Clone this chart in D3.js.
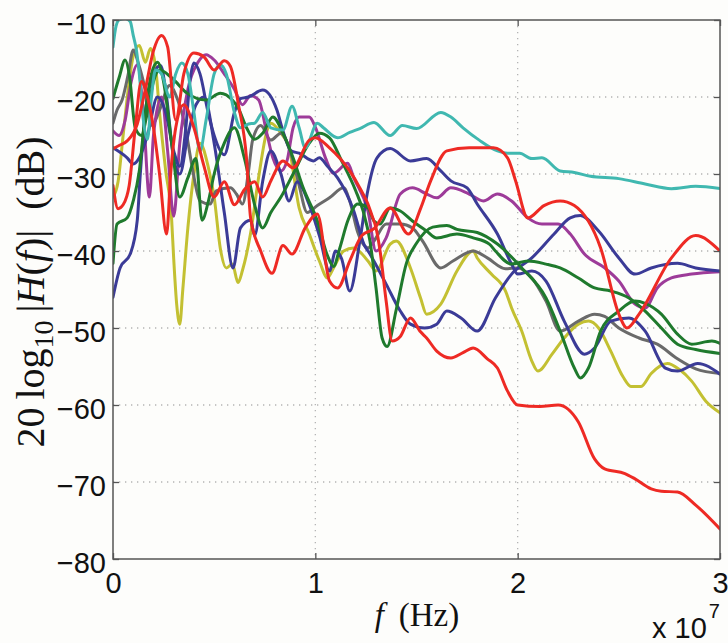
<!DOCTYPE html>
<html>
<head>
<meta charset="utf-8">
<script src="https://cdn.jsdelivr.net/npm/d3@7"></script>
<style>
  html, body { margin: 0; padding: 0; background: #fdfdfb; }
  svg { display: block; }
</style>
</head>
<body>
<svg id="chart" width="728" height="643"></svg>
<script>
// Frequency is given in units of 1e7 Hz, magnitude in dB.
const xTicks = [0, 1, 2, 3];
const yTicks = [-80, -70, -60, -50, -40, -30, -20, -10];

const cyanResp = [[0,-13.5],[0.015,-10.8],[0.03,-10.0],[0.06,-9.8],[0.085,-10.2],[0.1,-12],[0.115,-13.8],[0.13,-17],[0.15,-23],[0.17,-25.5],[0.19,-20],[0.21,-16.5],[0.24,-17],[0.28,-20],[0.31,-17],[0.34,-15.6],[0.37,-17],[0.4,-22],[0.43,-27],[0.46,-23],[0.5,-17],[0.53,-15.8],[0.56,-17],[0.6,-22],[0.63,-24],[0.67,-23.5],[0.7,-23.4],[0.74,-22],[0.78,-24],[0.84,-24.3],[0.885,-21.2],[0.92,-24],[0.95,-26.6],[1.01,-23.4],[1.04,-24],[1.11,-25.3],[1.17,-24.6],[1.22,-24.1],[1.29,-23.3],[1.37,-25],[1.43,-23.7],[1.5,-24.1],[1.62,-22],[1.67,-22.6],[1.73,-24],[1.81,-25.6],[1.9,-27],[1.95,-27.3],[2.01,-27.3],[2.07,-28],[2.12,-27.9],[2.21,-29.6],[2.28,-29.8],[2.36,-30.3],[2.5,-30.6],[2.63,-31.3],[2.76,-31.9],[2.88,-31.6],[3.0,-31.9]];

const redUpperResp = [[0,-26.7],[0.03,-26.3],[0.07,-25.7],[0.12,-23.5],[0.16,-19],[0.2,-14],[0.24,-12],[0.27,-13.5],[0.31,-23],[0.35,-17],[0.4,-14.3],[0.45,-14.8],[0.5,-16.5],[0.55,-15.3],[0.58,-16],[0.62,-21],[0.66,-28],[0.68,-35.7],[0.73,-40],[0.786,-42.9],[0.84,-39.3],[0.885,-40.4],[0.95,-37],[1.01,-35.2],[1.07,-43.9],[1.11,-44.8],[1.17,-41.3],[1.23,-38],[1.29,-37.1],[1.37,-34.4],[1.46,-37.8],[1.52,-34.5],[1.57,-30.9],[1.65,-27],[1.76,-26.6],[1.88,-26.6],[1.95,-27.9],[1.99,-30.9],[2.05,-35.7],[2.13,-34.1],[2.21,-33.5],[2.28,-34.1],[2.41,-39.6],[2.5,-48.2],[2.54,-50],[2.6,-48.2],[2.76,-40.9],[2.88,-38],[3.0,-40]];

const redLowerResp = [[0,-31.5],[0.025,-34.5],[0.05,-34],[0.08,-31.5],[0.11,-24],[0.14,-18],[0.17,-20],[0.2,-24],[0.23,-30],[0.265,-37.8],[0.285,-30],[0.31,-24],[0.35,-21],[0.4,-24],[0.45,-29],[0.5,-33],[0.55,-31],[0.6,-34],[0.65,-32],[0.7,-31],[0.74,-33],[0.78,-30.9],[0.84,-28.3],[0.89,-29.2],[0.97,-25.6],[1.0,-25.3],[1.07,-26.6],[1.17,-29.6],[1.22,-31.8],[1.26,-33.9],[1.28,-35.4],[1.3,-37],[1.32,-40],[1.35,-46.5],[1.38,-51.7],[1.42,-51.1],[1.47,-48.7],[1.52,-50.5],[1.55,-51.3],[1.6,-53],[1.67,-53.9],[1.73,-53.2],[1.78,-52.6],[1.85,-54],[1.9,-55.2],[1.95,-58.2],[2.0,-60],[2.11,-60.2],[2.2,-60],[2.3,-62.2],[2.38,-67],[2.43,-68.3],[2.53,-68.9],[2.58,-69.6],[2.66,-70.9],[2.71,-71.2],[2.79,-71.3],[2.88,-73],[3.0,-76.1]];

const navyUpperResp = [[0,-26.6],[0.07,-27.9],[0.1,-28.7],[0.13,-27.9],[0.17,-25],[0.22,-20],[0.26,-22],[0.3,-27],[0.33,-29],[0.36,-24],[0.38,-18],[0.4,-15.6],[0.43,-17],[0.47,-22],[0.5,-25],[0.55,-27.5],[0.6,-22],[0.63,-20.2],[0.67,-20],[0.74,-19.1],[0.81,-21.7],[0.84,-24.4],[0.88,-27],[0.92,-27.3],[0.99,-28.3],[1.02,-27.9],[1.06,-29],[1.11,-30.5],[1.19,-34.8],[1.24,-39.1],[1.27,-40.4],[1.35,-44.3],[1.42,-47.8],[1.47,-49.5],[1.54,-50],[1.6,-49.5],[1.65,-47.8],[1.72,-48.7],[1.8,-50.4],[1.89,-46.1],[1.97,-43],[2.07,-40.9],[2.18,-37.8],[2.26,-35.7],[2.31,-35.4],[2.4,-37.4],[2.5,-40.9],[2.58,-43],[2.66,-42.2],[2.79,-41.6],[2.88,-42.2],[3.0,-42.6]];

const navyLowerResp = [[0,-46],[0.035,-42.2],[0.085,-40.4],[0.12,-36],[0.135,-30],[0.16,-22],[0.2,-17],[0.235,-15.9],[0.26,-19],[0.3,-28],[0.33,-30],[0.37,-25],[0.41,-21],[0.45,-20],[0.5,-26],[0.55,-35],[0.593,-42.2],[0.63,-37],[0.68,-36],[0.7,-38],[0.74,-30.9],[0.78,-27],[0.83,-30],[0.87,-33.5],[0.91,-31],[0.97,-34],[1.02,-38],[1.07,-42.6],[1.1,-40],[1.13,-41],[1.17,-45.2],[1.22,-38.7],[1.256,-32.6],[1.305,-27.9],[1.37,-26.7],[1.47,-28.3],[1.55,-28],[1.62,-29.6],[1.67,-30.9],[1.75,-31.8],[1.8,-33.9],[1.9,-37.8],[1.97,-41.7],[2.0,-43],[2.07,-42.6],[2.14,-43.9],[2.23,-49.1],[2.33,-53.4],[2.38,-52.6],[2.46,-49.1],[2.55,-48.7],[2.63,-50.4],[2.73,-55.2],[2.79,-55.6],[2.89,-54.6],[3.0,-56]];

const purpleResp = [[0,-24.4],[0.03,-25],[0.06,-23],[0.09,-18],[0.12,-15.8],[0.15,-22],[0.18,-33],[0.2,-25],[0.24,-20],[0.27,-27],[0.3,-35.5],[0.33,-26],[0.37,-19],[0.42,-15.5],[0.46,-14.5],[0.5,-15.2],[0.55,-17],[0.6,-19],[0.64,-21],[0.68,-19.8],[0.72,-20.4],[0.76,-24.7],[0.79,-27.9],[0.83,-29.6],[0.86,-28.3],[0.89,-24],[0.92,-22.6],[0.97,-22.6],[1.0,-23.9],[1.05,-27.9],[1.09,-29.9],[1.16,-28.6],[1.19,-30.5],[1.26,-34.8],[1.3,-40],[1.35,-38.3],[1.42,-32.6],[1.48,-31.8],[1.55,-32.6],[1.6,-33.1],[1.67,-31.8],[1.76,-32.6],[1.83,-33.5],[1.9,-32.6],[1.97,-33.5],[2.05,-35.7],[2.12,-36.5],[2.2,-36.5],[2.26,-37.8],[2.33,-40.4],[2.43,-42.2],[2.5,-43.9],[2.58,-46.9],[2.63,-47.4],[2.69,-44.8],[2.76,-43.5],[2.86,-43],[3.0,-42.7]];

const grayResp = [[0,-23.4],[0.02,-21.7],[0.045,-20.4],[0.074,-17.2],[0.1,-13.9],[0.124,-15.5],[0.16,-19.1],[0.193,-23.7],[0.23,-21.7],[0.28,-18.5],[0.32,-20.4],[0.356,-23.7],[0.39,-28.9],[0.43,-33.5],[0.48,-33.9],[0.51,-32.2],[0.58,-31.8],[0.61,-32.6],[0.64,-33.9],[0.67,-29.6],[0.69,-25.6],[0.73,-23.7],[0.78,-25.6],[0.83,-24.7],[0.85,-25.3],[0.89,-28.3],[0.92,-31.5],[0.96,-35.0],[1.01,-34.1],[1.07,-33.1],[1.14,-31.8],[1.17,-33.5],[1.21,-37.6],[1.26,-39.6],[1.29,-38.7],[1.35,-36.5],[1.42,-36.5],[1.48,-37.0],[1.53,-38.7],[1.62,-42.2],[1.68,-41.3],[1.78,-40.0],[1.85,-40.9],[1.94,-42.3],[2.0,-42.2],[2.07,-43.5],[2.14,-46.5],[2.21,-50.4],[2.3,-49.1],[2.38,-48.2],[2.43,-48.5],[2.5,-50.0],[2.6,-51.3],[2.69,-52.1],[2.79,-54.0],[2.88,-55.3],[3.0,-55.9]];

const oliveResp = [[0,-33],[0.025,-31],[0.05,-25],[0.08,-18],[0.1,-14.7],[0.13,-13.3],[0.16,-15.5],[0.185,-13.7],[0.21,-16],[0.23,-22],[0.26,-29.5],[0.29,-36],[0.3,-41],[0.315,-47],[0.33,-49.5],[0.345,-45],[0.37,-37],[0.4,-30],[0.43,-26],[0.47,-29],[0.5,-33],[0.53,-39.6],[0.56,-42.2],[0.59,-41.7],[0.618,-44.1],[0.64,-42.5],[0.68,-37.7],[0.72,-30.4],[0.76,-24.5],[0.78,-23.4],[0.83,-24.7],[0.87,-26.6],[0.92,-34.4],[0.97,-37.8],[1.02,-41.3],[1.06,-43.5],[1.09,-42.2],[1.14,-40],[1.19,-39.6],[1.26,-41.3],[1.3,-42.6],[1.37,-39.1],[1.4,-38.7],[1.47,-42.2],[1.52,-46.1],[1.55,-48.2],[1.62,-46.9],[1.7,-42.6],[1.78,-40],[1.8,-40.9],[1.87,-43],[1.94,-45.2],[1.97,-47.4],[2.02,-50.4],[2.07,-54.3],[2.1,-55.6],[2.17,-53.4],[2.23,-51.3],[2.3,-49.5],[2.35,-49.1],[2.4,-50],[2.46,-53],[2.52,-56.3],[2.56,-57.6],[2.61,-57.6],[2.66,-55.9],[2.74,-54.6],[2.8,-55.4],[2.86,-56.9],[2.93,-59.5],[3.0,-61]];

const greenDeepResp = [[0,-41.6],[0.02,-36.5],[0.07,-35.7],[0.1,-33.5],[0.13,-29.6],[0.16,-22],[0.19,-17],[0.22,-15.5],[0.25,-18],[0.29,-26],[0.33,-33],[0.37,-30.5],[0.41,-28],[0.44,-36],[0.47,-33.7],[0.5,-30],[0.55,-26],[0.6,-24],[0.65,-28],[0.7,-34],[0.74,-37],[0.78,-35],[0.83,-33],[0.89,-30],[0.97,-26],[1.02,-24.7],[1.07,-25.3],[1.13,-28.3],[1.2,-32.2],[1.236,-34.8],[1.27,-38.7],[1.3,-44.8],[1.33,-51.3],[1.355,-52.4],[1.4,-47.6],[1.45,-41.6],[1.5,-39],[1.58,-36.9],[1.65,-36.7],[1.7,-37.2],[1.8,-37.6],[1.9,-39.1],[2.02,-42.2],[2.14,-46.1],[2.21,-50.4],[2.28,-55.2],[2.31,-56.5],[2.35,-55.2],[2.41,-50.4],[2.5,-47.8],[2.58,-46.5],[2.63,-46.8],[2.71,-48.2],[2.79,-50.8],[2.86,-52.1],[2.96,-51.7],[3.0,-52]];

const greenFlatResp = [[0,-20.2],[0.03,-17.5],[0.06,-15.2],[0.08,-17],[0.11,-24],[0.14,-25],[0.17,-22],[0.2,-18],[0.23,-16.5],[0.29,-17.5],[0.366,-19.5],[0.46,-20.4],[0.53,-19.5],[0.59,-20.4],[0.62,-21.5],[0.66,-24],[0.7,-25.5],[0.74,-24.7],[0.79,-22.6],[0.84,-24.7],[0.89,-27.9],[0.94,-31.8],[1.01,-36.1],[1.06,-40.6],[1.09,-42],[1.12,-39.7],[1.16,-36.1],[1.21,-33.9],[1.26,-34.4],[1.29,-36.1],[1.32,-36.5],[1.37,-34.4],[1.42,-34.8],[1.48,-36.1],[1.55,-37.4],[1.6,-38.3],[1.7,-37.8],[1.78,-38.3],[1.86,-39.1],[1.89,-40],[1.97,-41.7],[2.05,-41.3],[2.14,-41.7],[2.21,-42.2],[2.3,-43.5],[2.38,-44.8],[2.46,-45.2],[2.55,-46.1],[2.63,-47.8],[2.71,-50],[2.79,-52.1],[2.88,-52.8],[3.0,-53.3]];

// Draw order (last is on top) and line colours.
const curves = [
  { data: oliveResp,      color: "#c3c032" },
  { data: grayResp,       color: "#6a6a6a" },
  { data: purpleResp,     color: "#9d3b99" },
  { data: navyUpperResp,  color: "#3b3b97" },
  { data: navyLowerResp,  color: "#3b3b97" },
  { data: greenFlatResp,  color: "#1f7a2d" },
  { data: greenDeepResp,  color: "#1f7a2d" },
  { data: cyanResp,       color: "#40b8b0" },
  { data: redLowerResp,   color: "#ee2a24" },
  { data: redUpperResp,   color: "#ee2a24" }
];

const svg = d3.select("#chart");
const plotL = 113, plotR = 720, plotT = 20, plotB = 559;

const x = d3.scaleLinear().domain([0, 3]).range([plotL, plotR]);
const y = d3.scaleLinear().domain([-80, -10]).range([plotB, plotT]);

svg.append("rect").attr("width", 728).attr("height", 643).attr("fill", "#fdfdfb");

svg.append("defs").append("clipPath").attr("id", "plotClip")
  .append("rect").attr("x", plotL).attr("y", plotT)
  .attr("width", plotR - plotL).attr("height", plotB - plotT);

// dotted grid
const grid = svg.append("g").attr("stroke", "#b4b4b4").attr("stroke-width", 1.3)
  .attr("stroke-dasharray", "1.3,4.7");
grid.selectAll("line.gx").data(xTicks.filter(t => t > 0 && t < 3)).join("line")
  .attr("class", "gx")
  .attr("x1", d => x(d)).attr("x2", d => x(d)).attr("y1", plotT).attr("y2", plotB);
grid.selectAll("line.gy").data(yTicks.filter(t => t > -80 && t < -10)).join("line")
  .attr("class", "gy")
  .attr("y1", d => y(d)).attr("y2", d => y(d)).attr("x1", plotL).attr("x2", plotR);

// response curves
const line = d3.line().x(d => x(d[0])).y(d => y(d[1])).curve(d3.curveMonotoneX);
svg.append("g").attr("clip-path", "url(#plotClip)")
  .selectAll("path").data(curves).join("path")
  .attr("d", d => line(d.data))
  .attr("fill", "none")
  .attr("stroke", d => d.color)
  .attr("stroke-width", 3)
  .attr("stroke-linejoin", "round")
  .attr("stroke-linecap", "round");

// axes: inward ticks on all sides
const axisColor = "#555";
const tickFont = "'Liberation Sans', Arial, Helvetica, sans-serif";
const fmt = d => (d < 0 ? "\u2212" + Math.abs(d) : String(d));

const gx = svg.append("g").attr("transform", `translate(0,${plotB})`)
  .call(d3.axisBottom(x).tickValues(xTicks).tickFormat(fmt).tickSizeInner(-6).tickSizeOuter(0).tickPadding(13));
const gy = svg.append("g").attr("transform", `translate(${plotL},0)`)
  .call(d3.axisLeft(y).tickValues(yTicks).tickFormat(fmt).tickSizeInner(-6).tickSizeOuter(0).tickPadding(7));
svg.append("g").attr("transform", `translate(0,${plotT})`)
  .call(d3.axisTop(x).tickValues(xTicks).tickFormat("").tickSizeInner(-6).tickSizeOuter(0));
svg.append("g").attr("transform", `translate(${plotR},0)`)
  .call(d3.axisRight(y).tickValues(yTicks).tickFormat("").tickSizeInner(-6).tickSizeOuter(0));

svg.selectAll(".domain").remove();
svg.selectAll(".tick line").attr("stroke", axisColor).attr("stroke-width", 1.3);
svg.selectAll(".tick text").attr("fill", "#111")
  .style("font-family", tickFont).style("font-size", "29px");
gy.selectAll(".tick text").attr("dy", "0.48em");

svg.append("rect").attr("x", plotL).attr("y", plotT)
  .attr("width", plotR - plotL).attr("height", plotB - plotT)
  .attr("fill", "none").attr("stroke", axisColor).attr("stroke-width", 1.5);

// exponent note
const expo = svg.append("text").attr("x", 652).attr("y", 638)
  .attr("fill", "#111").style("font-family", tickFont).style("font-size", "29px");
expo.append("tspan").text("x 10");
expo.append("tspan").attr("dy", -20).attr("dx", 2).style("font-size", "20px").text("7");

// axis titles
const serif = "'Liberation Serif', 'Times New Roman', serif";
const xt = svg.append("text").attr("x", 417).attr("y", 626).attr("text-anchor", "middle")
  .attr("fill", "#111").style("font-family", serif).style("font-size", "33px");
xt.append("tspan").style("font-style", "italic").text("f");
xt.append("tspan").text("\u2009 (Hz)");

const yt = svg.append("text").attr("transform", "translate(44,292) rotate(-90)")
  .attr("text-anchor", "middle")
  .attr("fill", "#111").style("font-family", serif).style("font-size", "40px");
yt.append("tspan").text("20\u2009log");
yt.append("tspan").attr("dy", 9).style("font-size", "28px").text("10");
yt.append("tspan").attr("dy", -9).text("\u2009|");
yt.append("tspan").style("font-style", "italic").text("H");
yt.append("tspan").text("(");
yt.append("tspan").style("font-style", "italic").text("f");
yt.append("tspan").text(")|\u2002(dB)");
</script>
</body>
</html>
